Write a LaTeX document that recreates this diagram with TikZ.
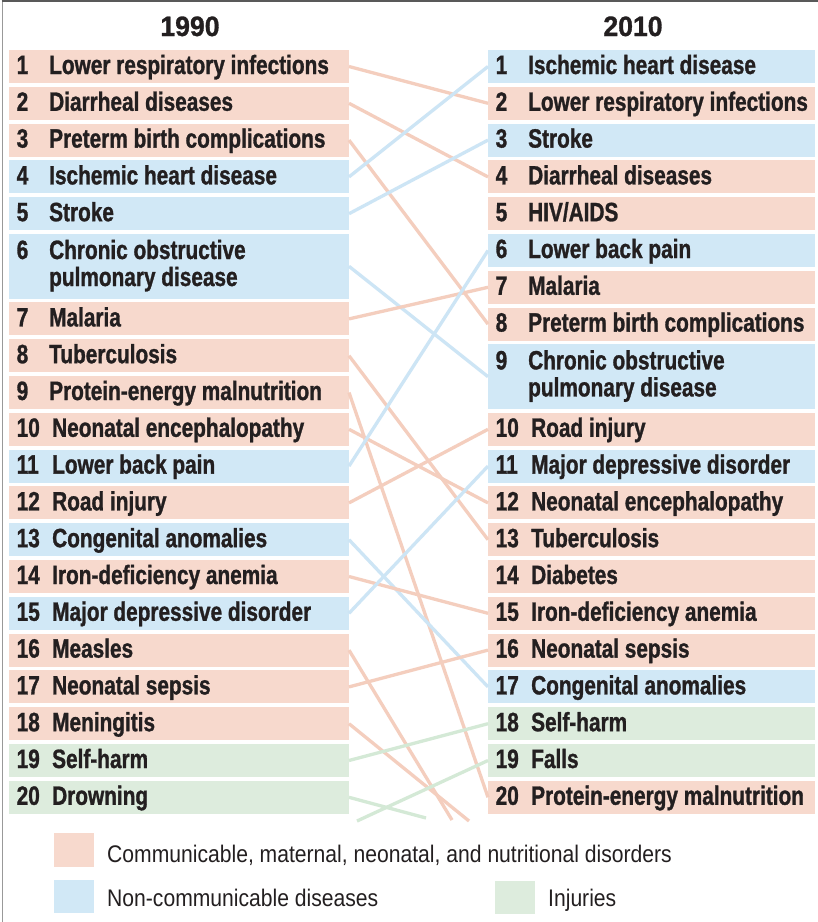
\documentclass[tikz,border=0pt]{standalone}
\usepackage{fontspec}
\setmainfont{Liberation Sans}
\newfontfamily\lblfont{Liberation Sans}[UprightFont=* Bold, FakeStretch=0.785, FakeBold=1.1]
\newfontfamily\legfont{Liberation Sans}[FakeStretch=0.88]
\newfontfamily\ttlfont{Liberation Sans}[UprightFont=* Bold, FakeStretch=0.95, FakeBold=1.1]
\definecolor{pinkbox}{RGB}{247,217,205}
\definecolor{bluebox}{RGB}{209,232,246}
\definecolor{greenbox}{RGB}{221,236,221}
\definecolor{pinkln}{RGB}{244,206,190}
\definecolor{blueln}{RGB}{205,229,245}
\definecolor{greenln}{RGB}{212,233,214}
\definecolor{txt}{RGB}{35,31,32}
\tikzset{
  rowbox/.style={draw=none, inner sep=0pt, outer sep=0pt},
  lbl/.style={anchor=base west, inner sep=0pt, text=txt, font=\lblfont\fontsize{26.5}{28}\selectfont},
  ttl/.style={anchor=base, inner sep=0pt, text=txt, font=\ttlfont\fontsize{28}{30}\selectfont},
  leg/.style={anchor=base west, inner sep=0pt, text=txt, font=\legfont\fontsize{24}{26}\selectfont},
  pl/.style={draw=pinkln, line width=3.3pt},
  bl/.style={draw=blueln, line width=3.3pt},
  gl/.style={draw=greenln, line width=3.3pt},
}
% #1 name, #2 x, #3 width, #4 top, #5 color, #6 number, #7 label offset, #8 label
\newcommand\mkrow[8]{%
  \node[rowbox, fill=#5, minimum width=#3, minimum height=33, anchor=north west] (#1) at (#2,#4) {};
  \node[lbl] (#1num) at (#2+7.5,#4+24) {#6};
  \node[lbl] (#1txt) at (#2+#7,#4+24) {#8};
}
% two-line row: #1 name, #2 x, #3 width, #4 top, #5 color, #6 number, #7 line1, #8 line2
\newcommand\mkrowtwo[8]{%
  \node[rowbox, fill=#5, minimum width=#3, minimum height=64.6, anchor=north west] (#1) at (#2,#4) {};
  \node[lbl] (#1num) at (#2+7.5,#4+25) {#6};
  \node[lbl] (#1txta) at (#2+40,#4+25) {#7};
  \node[lbl] (#1txtb) at (#2+40,#4+52) {#8};
}
\begin{document}
\begin{tikzpicture}[x=1pt,y=-1pt]
\useasboundingbox (0,0) rectangle (818,922);
\fill[white] (0,0) rectangle (818,922);
% frame
\draw[color=black!40, line width=1.8pt] (2.5,922) -- (2.5,1);
\draw[color=black!65, line width=1.6pt] (1.6,0.8) -- (818,0.8);

% titles
\node[ttl] (t1990) at (190,36) {1990};
\node[ttl] (t2010) at (633,36) {2010};

% left column
\mkrow{L1}{9}{340}{50}{pinkbox}{1}{40}{Lower respiratory infections}
\mkrow{L2}{9}{340}{86.8}{pinkbox}{2}{40}{Diarrheal diseases}
\mkrow{L3}{9}{340}{123.6}{pinkbox}{3}{40}{Preterm birth complications}
\mkrow{L4}{9}{340}{160.4}{bluebox}{4}{40}{Ischemic heart disease}
\mkrow{L5}{9}{340}{197.2}{bluebox}{5}{40}{Stroke}
\mkrowtwo{L6}{9}{340}{234}{bluebox}{6}{Chronic obstructive}{pulmonary disease}
\mkrow{L7}{9}{340}{302.4}{pinkbox}{7}{40}{Malaria}
\mkrow{L8}{9}{340}{339.2}{pinkbox}{8}{40}{Tuberculosis}
\mkrow{L9}{9}{340}{376}{pinkbox}{9}{40}{Protein-energy malnutrition}
\mkrow{L10}{9}{340}{412.8}{pinkbox}{10}{43}{Neonatal encephalopathy}
\mkrow{L11}{9}{340}{449.6}{bluebox}{11}{43}{Lower back pain}
\mkrow{L12}{9}{340}{486.4}{pinkbox}{12}{43}{Road injury}
\mkrow{L13}{9}{340}{523.2}{bluebox}{13}{43}{Congenital anomalies}
\mkrow{L14}{9}{340}{560}{pinkbox}{14}{43}{Iron-deficiency anemia}
\mkrow{L15}{9}{340}{596.8}{bluebox}{15}{43}{Major depressive disorder}
\mkrow{L16}{9}{340}{633.6}{pinkbox}{16}{43}{Measles}
\mkrow{L17}{9}{340}{670.4}{pinkbox}{17}{43}{Neonatal sepsis}
\mkrow{L18}{9}{340}{707.2}{pinkbox}{18}{43}{Meningitis}
\mkrow{L19}{9}{340}{744}{greenbox}{19}{43}{Self-harm}
\mkrow{L20}{9}{340}{780.8}{greenbox}{20}{43}{Drowning}

% right column
\mkrow{R1}{488}{327}{50}{bluebox}{1}{40}{Ischemic heart disease}
\mkrow{R2}{488}{327}{86.8}{pinkbox}{2}{40}{Lower respiratory infections}
\mkrow{R3}{488}{327}{123.6}{bluebox}{3}{40}{Stroke}
\mkrow{R4}{488}{327}{160.4}{pinkbox}{4}{40}{Diarrheal diseases}
\mkrow{R5}{488}{327}{197.2}{pinkbox}{5}{40}{HIV/AIDS}
\mkrow{R6}{488}{327}{234}{bluebox}{6}{40}{Lower back pain}
\mkrow{R7}{488}{327}{270.8}{pinkbox}{7}{40}{Malaria}
\mkrow{R8}{488}{327}{307.6}{pinkbox}{8}{40}{Preterm birth complications}
\mkrowtwo{R9}{488}{327}{344.4}{bluebox}{9}{Chronic obstructive}{pulmonary disease}
\mkrow{R10}{488}{327}{412.8}{pinkbox}{10}{43}{Road injury}
\mkrow{R11}{488}{327}{449.6}{bluebox}{11}{43}{Major depressive disorder}
\mkrow{R12}{488}{327}{486.4}{pinkbox}{12}{43}{Neonatal encephalopathy}
\mkrow{R13}{488}{327}{523.2}{pinkbox}{13}{43}{Tuberculosis}
\mkrow{R14}{488}{327}{560}{pinkbox}{14}{43}{Diabetes}
\mkrow{R15}{488}{327}{596.8}{pinkbox}{15}{43}{Iron-deficiency anemia}
\mkrow{R16}{488}{327}{633.6}{pinkbox}{16}{43}{Neonatal sepsis}
\mkrow{R17}{488}{327}{670.4}{bluebox}{17}{43}{Congenital anomalies}
\mkrow{R18}{488}{327}{707.2}{greenbox}{18}{43}{Self-harm}
\mkrow{R19}{488}{327}{744}{greenbox}{19}{43}{Falls}
\mkrow{R20}{488}{327}{780.8}{pinkbox}{20}{43}{Protein-energy malnutrition}

% free ends
\coordinate (x16) at (452,820);
\coordinate (x18) at (469,821);
\coordinate (x20) at (426,818);
\coordinate (x19) at (357,821);

% connectors
\draw[pl] (L1.east) -- (R2.west);
\draw[pl] (L2.east) -- (R4.west);
\draw[pl] (L3.east) -- (R8.west);
\draw[bl] (L4.east) -- (R1.west);
\draw[bl] (L5.east) -- (R3.west);
\draw[bl] (L6.east) -- (R9.west);
\draw[pl] (L7.east) -- (R7.west);
\draw[pl] (L8.east) -- (R13.west);
\draw[pl] (L9.east) -- (R20.west);
\draw[pl] (L10.east) -- (R12.west);
\draw[bl] (L11.east) -- (R6.west);
\draw[pl] (L12.east) -- (R10.west);
\draw[bl] (L13.east) -- (R17.west);
\draw[pl] (L14.east) -- (R15.west);
\draw[bl] (L15.east) -- (R11.west);
\draw[pl] (L16.east) -- (x16);
\draw[pl] (L17.east) -- (R16.west);
\draw[pl] (L18.east) -- (x18);
\draw[gl] (L19.east) -- (R18.west);
\draw[gl] (L20.east) -- (x20);
\draw[gl] (x19) -- (R19.west);

% legend
\node[rowbox, fill=pinkbox, minimum width=40, minimum height=34, anchor=north west] (kp) at (54,833) {};
\node[rowbox, fill=bluebox, minimum width=40, minimum height=33, anchor=north west] (kb) at (54,880) {};
\node[rowbox, fill=greenbox, minimum width=40, minimum height=33, anchor=north west] (kg) at (495,881) {};
\node[leg] (kpt) at (107,862) {Communicable, maternal, neonatal, and nutritional disorders};
\node[leg] (kbt) at (107,906) {Non-communicable diseases};
\node[leg] (kgt) at (548,906) {Injuries};
\end{tikzpicture}
\end{document}
